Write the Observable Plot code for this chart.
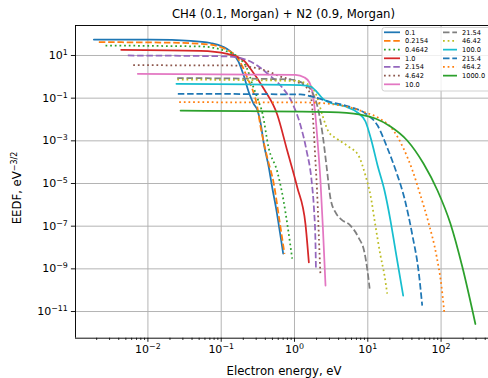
<!DOCTYPE html>
<html><head><meta charset="utf-8">
<script src="https://cdn.jsdelivr.net/npm/d3@7"></script>
<script src="https://cdn.jsdelivr.net/npm/@observablehq/plot@0.6"></script>
<style>body{margin:0;background:#fff} svg{display:block}</style>
</head><body><div id="chart"></div>
<script>
// ---- data (energy in eV, EEDF in eV^-3/2) ----
const seriesNames = ["0.1","0.2154","0.4642","1.0","2.154","4.642","10.0","21.54","46.42","100.0","215.4","464.2","1000.0"];

const E_0_1 = [1.83e-3,1.08e-2,3.81e-2,7.15e-2,0.104,0.134,0.172,0.203,0.238,0.276,0.313,0.344,0.381,0.446,0.496,0.568,0.634,0.701];
const F_0_1 = [56.2,55.1,48.9,38.5,26.4,15.4,5.23,1.15,0.19,0.056,0.0264,7.2e-3,7.5e-4,5.8e-5,6.7e-6,5.4e-7,5.0e-8,5.2e-9];

const E_0_2154 = [2.14e-3,1.49e-2,5.22e-2,9.8e-2,0.126,0.162,0.195,0.229,0.265,0.31,0.344,0.424,0.522,0.624,0.731];
const F_0_2154 = [42.1,40.6,35.4,25.0,17.1,8.97,3.05,0.836,0.275,0.0406,4.7e-3,1.7e-4,9.7e-6,1.84e-7,5.0e-9];

const E_0_4642 = [2.64e-3,1.49e-2,5.22e-2,0.121,0.172,0.226,0.267,0.313,0.366,0.442,0.586,0.708,0.803,0.93];
const F_0_4642 = [29.4,27.9,26.4,15.4,8.05,2.38,0.436,0.0964,0.0191,5.0e-4,3.3e-5,1.6e-6,1.07e-7,3.0e-9];

const E_1_0 = [4.32e-3,5.22e-2,0.121,0.203,0.251,0.381,0.581,0.795,1.09,1.41,1.57];
const F_1_0 = [18.5,16.6,12.0,5.83,2.38,0.275,0.0171,3.5e-4,6.7e-6,1.29e-7,2.0e-9];

const E_2_154 = [5.32e-3,5.22e-2,0.121,0.215,0.31,0.442,0.644,0.94,1.21,1.46,1.71,1.85,1.93,1.96];
const F_2_154 = [10.0,9.48,8.98,6.49,3.40,1.29,0.393,0.0562,5.2e-3,3.5e-4,1.38e-5,5.4e-7,2.1e-8,1.15e-9];

const E_4_642 = [6.3e-3,0.134,0.251,0.402,0.644,1.13,1.50,1.71,1.82,1.93,2.06,2.16,2.26];
const F_4_642 = [3.51,3.40,2.89,1.98,1.03,0.542,0.284,0.0777,4.2e-3,1.19e-4,1.6e-6,2.1e-8,4.9e-10];

const E_10_0 = [7.28e-3,1.03,1.37,1.60,1.76,1.90,2.06,2.26,2.45,2.65];
const F_10_0 = [1.39,1.22,0.931,0.542,0.184,0.0264,1.04e-3,1.38e-5,6.25e-8,1.65e-10];

const E_21_54 = [2.51e-2,0.882,1.33,1.76,2.12,2.41,2.73,3.10,3.63,4.38,5.80,7.47,9.02,9.9,10.6];
const F_21_54 = [0.881,0.75,0.486,0.184,0.0264,2.2e-3,7.0e-5,1.98e-6,4.4e-7,2.05e-7,1.07e-7,2.93e-8,5.8e-9,8.3e-10,1.19e-10];

const E_46_42 = [2.51e-2,1.03,1.55,2.0,2.41,2.91,3.74,5.45,7.47,9.3,10.9,12.7,14.9,16.9,18.4];
const F_46_42 = [0.75,0.638,0.436,0.133,0.0154,2.7e-3,1.29e-3,5.4e-4,2.05e-4,2.37e-5,2.73e-6,1.07e-7,4.2e-9,4.9e-10,6.9e-11];

const E_100_0 = [2.45e-2,1.21,1.65,2.0,2.41,3.10,4.96,7.23,9.3,11.2,13.6,16.9,20.4,23.9,30.4];
const F_100_0 = [0.471,0.414,0.352,0.205,0.0964,0.0593,0.0406,0.0213,8.05e-3,1.04e-3,7.0e-5,4.7e-6,1.84e-7,7.2e-9,5.6e-11];

const E_215_4 = [2.56e-2,1.21,1.93,3.10,5.80,9.3,13.6,18.6,24.6,31.7,40.7,49.2,55.3];
const F_215_4 = [0.16,0.149,0.107,0.066,0.0386,0.0191,5.2e-3,4.4e-4,3.3e-5,1.98e-6,3.6e-8,8.3e-10,1.9e-11];

const E_464_2 = [2.67e-2,1.65,3.10,5.80,9.3,14.9,22.4,30.7,40.7,52.4,67.3,86.5,101,111];
const F_464_2 = [0.0647,0.0626,0.0532,0.0365,0.0213,0.0105,3.05e-3,4.4e-4,4.1e-5,2.73e-6,1.48e-7,4.2e-9,1.65e-10,8.0e-12];

const E_1000_0 = [2.79e-2,3.10,7.95,12.7,20.4,34.5,57.5,89.3,134,196,294];
const F_1000_0 = [0.0264,0.0224,0.0171,0.0111,4.7e-3,1.04e-3,8.65e-5,4.7e-6,1.33e-7,1.15e-9,2.6e-12];

const xTicks = [1e-2,1e-1,1,10,100];
const yTicks = [1e1,1e-1,1e-3,1e-5,1e-7,1e-9,1e-11];
const titleText = "CH4 (0.1, Morgan) + N2 (0.9, Morgan)";
const xLabel = "Electron energy, eV";

// ---- styles ----
const colors = ["#1f77b4","#ff7f0e","#2ca02c","#d62728","#9467bd","#8c564b","#e377c2","#7f7f7f","#bcbd22","#17becf","#1f77b4","#ff7f0e","#2ca02c"];
const dashes = [null,"6.5,2.8","1.75,2.9"];

const energyArrays = [E_0_1,E_0_2154,E_0_4642,E_1_0,E_2_154,E_4_642,E_10_0,E_21_54,E_46_42,E_100_0,E_215_4,E_464_2,E_1000_0];
const eedfArrays   = [F_0_1,F_0_2154,F_0_4642,F_1_0,F_2_154,F_4_642,F_10_0,F_21_54,F_46_42,F_100_0,F_215_4,F_464_2,F_1000_0];

const xMinor = [];
for (const d of [1e-3,1e-2,1e-1,1,10,100]) for (let k=2;k<=9;k++) xMinor.push(k*d);

const xDomain = [Math.pow(10,-2.988), Math.pow(10,2.647)];
const yDomain = [Math.pow(10,-12.25), Math.pow(10,2.406)];
const xMinorIn = xMinor.filter(v => v>=xDomain[0] && v<=xDomain[1]);

const fmt = d => "10^" + Math.round(Math.log10(d));

const lineMarks = seriesNames.map((name,i) => {
  const rows = energyArrays[i].map((e,j) => ({E:e, F:eedfArrays[i][j], s:name}));
  const opts = {x:"E", y:"F", stroke: colors[i], strokeWidth:1.75, curve:"monotone-x"};
  if (dashes[i%3]) { opts.strokeDasharray = dashes[i%3]; opts.strokeLinecap = "butt"; }
  return Plot.line(rows, opts);
});

const svg = Plot.plot({
  width: 488, height: 378,
  marginLeft: 75, marginRight: 0, marginTop: 25, marginBottom: 40.3,
  style: {fontFamily: "'DejaVu Sans', sans-serif", fontSize: "11px", background: "#fff", color: "#000"},
  x: {type: "log", domain: xDomain},
  y: {type: "log", domain: yDomain},
  marks: [
    Plot.gridX(xTicks, {stroke: "#b0b0b0", strokeOpacity: 1, strokeWidth: 0.95}),
    Plot.gridY(yTicks, {stroke: "#b0b0b0", strokeOpacity: 1, strokeWidth: 0.95}),
    ...lineMarks,
    Plot.axisX(xMinorIn, {tickSize: 2.3, tickFormat: () => "", strokeWidth: 0.8, label: null}),
    Plot.axisX(xTicks, {tickSize: 4.1, tickPadding: 3, tickFormat: fmt, strokeWidth: 0.9, label: null, fontSize: 11}),
    Plot.axisY(yTicks, {tickSize: 4.1, tickPadding: 3.5, tickFormat: fmt, strokeWidth: 0.9, label: null, fontSize: 11}),
    Plot.ruleX([xDomain[0]], {stroke: "#000", strokeWidth: 0.95}),
    Plot.ruleY([yDomain[0], yDomain[1]], {stroke: "#000", strokeWidth: 0.95})
  ]
});

// superscripted tick labels
d3.select(svg).selectAll("text").each(function() {
  const t = this.textContent;
  if (/^10\^/.test(t)) {
    const exp = t.slice(3).replace("-", "\u2212");
    const sel = d3.select(this);
    sel.text("10");
    sel.append("tspan").attr("dy", "-0.5em").attr("font-size", "72%").text(exp);
  }
});

const root = d3.select(svg);
// title
root.append("text").attr("x", 283.5).attr("y", 18).attr("text-anchor", "middle")
  .attr("font-size", 11.7).attr("fill", "#000").text(titleText);
// x label
root.append("text").attr("x", 284).attr("y", 374.5).attr("text-anchor", "middle")
  .attr("font-size", 11.7).attr("fill", "#000").text(xLabel);
// y label
const yl = root.append("text").attr("transform", "translate(21,188) rotate(-90)")
  .attr("text-anchor", "middle").attr("font-size", 11.7).attr("fill", "#000");
yl.append("tspan").text("EEDF, eV");
yl.append("tspan").attr("dy", "-0.45em").attr("font-size", "8px").text("\u22123/2");

// legend
const lg = root.append("g").attr("text-anchor", "start");
lg.append("rect").attr("x", 382).attr("y", 27.5).attr("width", 120).attr("height", 63.5)
  .attr("rx", 2.5).attr("fill", "#fff").attr("fill-opacity", 0.8).attr("stroke", "#ccc").attr("stroke-width", 0.9);
seriesNames.forEach((name, i) => {
  const col = i < 7 ? 0 : 1;
  const row = col === 0 ? i : i - 7;
  const y = 32.3 + row * 8.67;
  const x0 = col === 0 ? 384 : 443;
  const x1 = col === 0 ? 400 : 457;
  const tx = col === 0 ? 405 : 462;
  const ln = lg.append("line").attr("x1", x0).attr("x2", x1).attr("y1", y).attr("y2", y)
    .attr("stroke", colors[i]).attr("stroke-width", 1.75);
  if (dashes[i % 3]) ln.attr("stroke-dasharray", dashes[i % 3]);
  lg.append("text").attr("x", tx).attr("y", y).attr("dy", "0.35em").attr("font-size", 6.6)
    .attr("text-anchor", "start").attr("fill", "#000").text(name);
});

document.getElementById("chart").appendChild(svg);
</script>
</body></html>
